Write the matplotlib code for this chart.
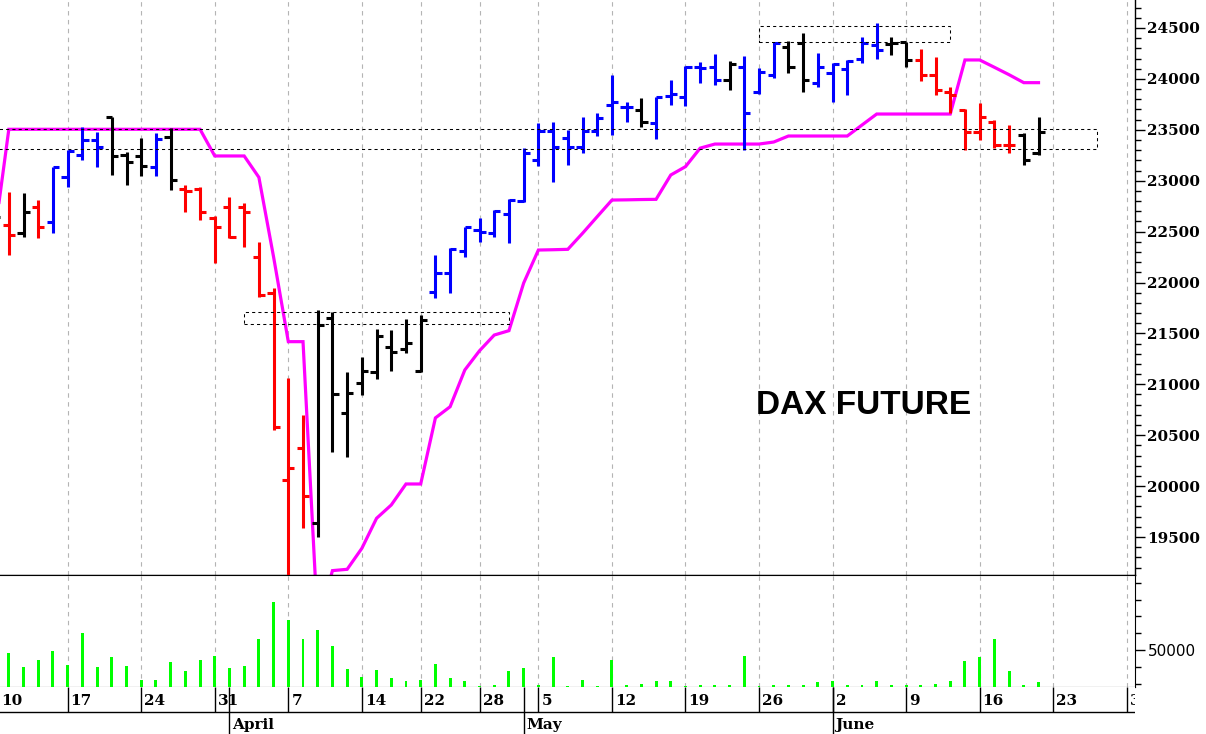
import numpy as np
import pandas as pd
import matplotlib
matplotlib.use("Agg")
import matplotlib.pyplot as plt
from matplotlib.patches import Rectangle
from matplotlib.transforms import offset_copy

# ---------------- data ----------------
holidays = ["2025-04-18", "2025-04-21", "2025-05-01"]
axis_start, axis_end = "2025-03-10", "2025-06-30"

opens = [22500, 22565, 22483, 22745, 22597, 23033, 23252, 23400, 23623, 23252,
         23243, 23131, 23432, 22916, 22918, 22631, 22745, 22745, 22250, 21894,
         20060, 20371, 19635, 21648, 20721, 21016, 21124, 21363, 21343, 21134,
         21910, 22097, 22313, 22519, 22483, 22673, 22804, 23203, 23491, 23416,
         23328, 23491, 23744, 23728, 23695, 23570, 23830, 23819, 24114, 24114,
         23989, 24120, 23875, 24038, 24317, 24350, 23963, 24055, 24094, 24192,
         24333, 24343, 24359, 24186, 24038, 23875, 23695, 23481, 23580, 23351,
         23449, 23275]
highs = [22800, 22892, 22876, 22810, 23138, 23302, 23530, 23481, 23629, 23285,
         23416, 23466, 23515, 22958, 22941, 22653, 22843, 22778, 22401, 21943,
         21059, 20699, 21730, 21713, 21124, 21271, 21540, 21534, 21638, 21680,
         22270, 22336, 22548, 22631, 22712, 22817, 23318, 23563, 23580, 23498,
         23623, 23662, 24038, 23777, 23809, 23825, 23990, 24127, 24169, 24245,
         24179, 24225, 24104, 24366, 24376, 24448, 24252, 24153, 24186, 24408,
         24546, 24408, 24366, 24291, 24212, 23924, 23701, 23760, 23597, 23547,
         23466, 23629]
lows = [22400, 22270, 22450, 22434, 22483, 22941, 23203, 23138, 23056, 22958,
        23046, 23046, 22909, 22696, 22614, 22195, 22434, 22352, 21860, 20551,
        18800, 19586, 19503, 20338, 20289, 20895, 21049, 21134, 21304, 21124,
        21845, 21894, 22247, 22401, 22450, 22391, 22794, 23144, 22990, 23154,
        23269, 23439, 23449, 23580, 23531, 23406, 23740, 23734, 23957, 23940,
        23891, 23302, 23852, 24005, 24061, 23875, 23917, 23777, 23842, 24153,
        24192, 24232, 24114, 23976, 23842, 23662, 23302, 23400, 23318, 23269,
        23154, 23252]
closes = [22647, 22467, 22696, 22548, 23131, 23295, 23400, 23328, 23245, 23187,
          23144, 23406, 23007, 22902, 22696, 22542, 22450, 22696, 21877, 20583,
          20175, 19903, 21583, 20905, 20918, 21134, 21474, 21320, 21402, 21632,
          22097, 22326, 22542, 22499, 22705, 22810, 23269, 23491, 23328, 23328,
          23491, 23613, 23777, 23721, 23580, 23819, 23850, 24114, 24105, 23989,
          24146, 23668, 24071, 24350, 24114, 23992, 24120, 24146, 24179, 24350,
          24284, 24356, 24186, 24038, 23891, 23842, 23481, 23623, 23351, 23351,
          23203, 23481]
bar_colors = list("krkrbbbbkkkbkrrrrrrrrrkkkkkkkkbbbbbbbbbbbbbbkbbbbbkbbbkkbbbbbkkrrrrrrrk")

stop_line = [22430] + [23505] * 14 + [23243, 23243, 23243, 23033, 22250, 21419, 21419,
             18640, 19170, 19183, 19389, 19684, 19815, 20021, 20021, 20670, 20780,
             21141, 21330, 21484, 21527, 21995, 22319, 22322, 22326, 22483, 22647,
             22810, 22812, 22815, 22817, 23056, 23138, 23320, 23360, 23360, 23360,
             23360, 23380, 23439, 23439, 23439, 23439, 23439, 23547, 23655, 23655,
             23655, 23655, 23655, 23655, 24186, 24186, 24114, 24041, 23963, 23963]

volume = [45000, 46900, 29600, 38200, 48800, 32400, 70400, 29600, 41400, 31600,
          14700, 14700, 35500, 24900, 38200, 43300, 28400, 31600, 63700, 107200,
          85300, 63700, 73500, 55100, 28000, 17900, 26500, 16700, 13200, 14700,
          33100, 16700, 13500, 7700, 8100, 24900, 28400, 8500, 41400, 7700,
          14700, 7700, 38200, 8100, 10000, 13500, 13500, 7700, 8100, 8500,
          8500, 43300, 7700, 8500, 8500, 8100, 11600, 13500, 8100, 8500,
          13500, 8500, 8500, 8100, 10000, 13500, 37100, 41400, 63700, 24900,
          8100, 11600]

# annotation boxes: (first session, last session, low, high)
boxes = [(0, 75, 23308, 23505), (17, 35, 21592, 21707), (52, 65, 24366, 24523)]
title_text = "DAX FUTURE"
price_ticks = list(range(19500, 25000, 500))
vol_label_tick = 50000

# ---------------- sessions / ticks ----------------
sessions = pd.bdate_range(axis_start, axis_end)
sessions = sessions[~sessions.isin(pd.to_datetime(holidays))]
week_idx = [i for i, d in enumerate(sessions)
            if i == 0 or d.weekday() < sessions[i - 1].weekday()]
week_lab = [str(sessions[i].day) for i in week_idx]
month_idx = [i for i in range(1, len(sessions)) if sessions[i].month != sessions[i - 1].month]
month_lab = [sessions[i].strftime("%B") for i in month_idx]

n = len(closes)
x = np.arange(n)
cmap = {"r": "#ff0000", "b": "#0000ff", "k": "#000000"}
cols = [cmap[c] for c in bar_colors]
x_left, x_right = 0.40, 77.56

# ---------------- figure ----------------
W, H = 1206, 734
fig = plt.figure(figsize=(W / 100, H / 100), dpi=100)
ax = fig.add_axes([0, 159 / H, 1135 / W, 575 / H])
vax = fig.add_axes([0, 47 / H, 1135 / W, 112 / H], sharex=ax)
dax = fig.add_axes([0, 0, 1135 / W, 47 / H], sharex=ax)

grid_kw = dict(color="#b4b4b4", lw=0.8, ls=(0, (4, 4)))

# price panel
ax.plot(x, stop_line, color="#ff00ff", lw=2.3, zorder=2, solid_joinstyle="miter")
tick = 0.42
ax.vlines(x, lows, highs, colors=cols, lw=2.2, zorder=3)
ax.hlines(opens, x - tick, x, colors=cols, lw=2.2, zorder=3)
ax.hlines(closes, x, x + tick, colors=cols, lw=2.2, zorder=3)
for (d0, d1, lo, hi) in boxes:
    ax.add_patch(Rectangle((d0, lo), d1 - d0, hi - lo, fill=False, ec="black",
                           lw=0.75, ls=(0, (3, 3)), zorder=4))
ax.text(51.8, 20708, title_text, fontfamily="Liberation Sans", fontweight="bold",
        fontsize=24, ha="left", va="baseline", zorder=5)

ax.set_ylim(19127, 24775)
ax.set_xticks(week_idx)
ax.grid(axis="x", **grid_kw)
ax.set_axisbelow(True)
ax.tick_params(axis="x", length=0, labelbottom=False)
ax.yaxis.tick_right()
ax.set_yticks(price_ticks, labels=[str(t) for t in price_ticks],
              fontfamily="DejaVu Serif", fontweight="bold", fontsize=11)
ax.set_yticks(range(19200, 24800, 100), minor=True)
ax.tick_params(axis="y", which="major", length=7, width=1, pad=1.5)
ax.tick_params(axis="y", which="minor", length=4.3, width=1)
for s in ("left", "top"):
    ax.spines[s].set_visible(False)
ax.spines["right"].set_linewidth(1)
ax.spines["bottom"].set_linewidth(1)

# volume panel
vax.bar(x, volume, width=0.2, color="#00ff00", zorder=3)
vax.set_ylim(6000, 139400)
vax.grid(axis="x", **grid_kw)
vax.set_axisbelow(True)
vax.tick_params(axis="x", length=0, labelbottom=False)
vax.yaxis.tick_right()
vax.set_yticks([vol_label_tick], labels=[str(vol_label_tick)], fontfamily="DejaVu Sans",
               fontsize=11)
vax.set_yticks([10000, 30000, 70000, 90000, 110000, 130000], minor=True)
vax.tick_params(axis="y", which="major", length=7, width=1, pad=2)
vax.tick_params(axis="y", which="minor", length=4.3, width=1)
vax.spines["left"].set_visible(False)

# date strip
dax.set_ylim(0, 1)
for s in dax.spines.values():
    s.set_visible(False)
dax.tick_params(left=False, bottom=False, labelleft=False, labelbottom=False)
dax.axhline(0.468, color="black", lw=1)
dax.vlines(week_idx, 0.468, 1, color="black", lw=1)
dax.vlines(month_idx, 0, 1, color="black", lw=1)
tr = offset_copy(dax.transData, fig=fig, x=3, y=0, units="dots")
for i, lab in zip(week_idx, week_lab):
    xpos = max(i, x_left - 0.1)
    dax.text(xpos, 0.617, lab, transform=tr, fontfamily="DejaVu Serif", fontweight="bold",
             fontsize=11, ha="left", va="baseline", clip_on=True)
for i, lab in zip(month_idx, month_lab):
    dax.text(i, 0.10, lab, transform=tr, fontfamily="DejaVu Serif", fontweight="bold",
             fontsize=11, ha="left", va="baseline", clip_on=True)

# final x range (set last so autoscaling of shared axes cannot change it)
for a in (ax, vax, dax):
    a.set_autoscalex_on(False)
ax.set_xlim(x_left, x_right)

fig.savefig("out.png", dpi=100)
